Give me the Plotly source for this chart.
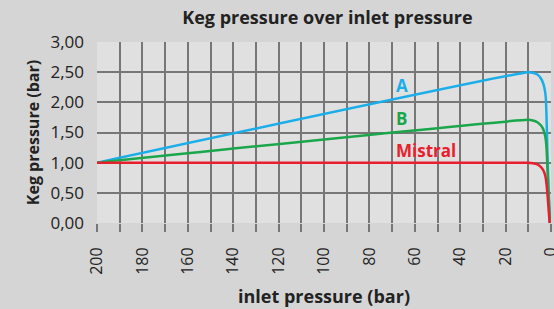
import plotly.graph_objects as go

# Data
a_x = [200, 10, 8, 6, 4.5, 3.5, 2.8, 2.3, 2.0, 1.6, 1.1, 0.4]
a_y = [1.0, 2.5, 2.49, 2.46, 2.40, 2.32, 2.22, 2.08, 1.8, 1.2, 0.6, 0.0]
b_x = [200, 10, 8, 6, 4.5, 3.5, 2.8, 2.3, 1.9, 1.5, 1.0, 0.4]
b_y = [1.0, 1.71, 1.70, 1.67, 1.62, 1.56, 1.48, 1.38, 1.2, 0.85, 0.4, 0.0]
m_x = [200, 10, 8, 6, 4.5, 3.5, 2.8, 2.3, 1.9, 1.5, 1.0, 0.6]
m_y = [1.0, 1.0, 0.99, 0.97, 0.93, 0.88, 0.82, 0.74, 0.62, 0.45, 0.2, 0.0]

x_ticks = [200, 180, 160, 140, 120, 100, 80, 60, 40, 20, 0]
y_ticks = [0, 0.5, 1.0, 1.5, 2.0, 2.5, 3.0]
y_tick_labels = ["0,00", "0,50", "1,00", "1,50", "2,00", "2,50", "3,00"]

series_names = ["A", "B", "Mistral"]
colors = ["#19aeea", "#1aa64a", "#e8202e"]
label_pos = [(69, 2.28), (69, 1.74), (69, 1.2)]

FONT = "Open Sans"
TXT = "#222222"
GRID = "#777777"

fig = go.Figure()
for (xs, ys), c, n in zip([(a_x, a_y), (b_x, b_y), (m_x, m_y)], colors, series_names):
    fig.add_trace(go.Scatter(x=xs, y=ys, mode="lines", name=n,
                             line=dict(color=c, width=2.5, shape="spline", smoothing=0.5),
                             showlegend=False, cliponaxis=False))

for n, c, (lx, ly) in zip(series_names, colors, label_pos):
    fig.add_annotation(x=lx, y=ly, text=f"<b>{n}</b>", showarrow=False,
                       xanchor="left", yanchor="middle",
                       font=dict(family=FONT, size=17, color=c))

fig.update_layout(
    width=554, height=309,
    margin=dict(l=97, r=3, t=42, b=86, autoexpand=False),
    paper_bgcolor="#d5d5d5",
    plot_bgcolor="#e0e0e0",
    title=dict(text="<b>Keg pressure over inlet pressure</b>", x=0.591, xanchor="center",
               y=0.942, yanchor="middle",
               font=dict(family=FONT, size=18, color=TXT)),
    font=dict(family=FONT, color=TXT),
)
fig.update_xaxes(range=[200, 0], tickvals=x_ticks, tickangle=-90,
                 tickfont=dict(family=FONT, size=16, color=TXT),
                 ticklabeloverflow="allow", ticklabelstandoff=9,
                 showgrid=True, gridcolor=GRID, gridwidth=2,
                 ticks="outside", ticklen=8, tickcolor=GRID, tickwidth=2,
                 zeroline=False, showline=False,
                 minor=dict(dtick=10, tick0=0, showgrid=True, gridcolor=GRID,
                            gridwidth=2, ticks="outside", ticklen=8,
                            tickcolor=GRID, tickwidth=2),
                 title=dict(text="<b>inlet pressure (bar)</b>", standoff=16,
                            font=dict(family=FONT, size=18, color=TXT)))
fig.update_yaxes(range=[0, 3.0], tickvals=y_ticks, ticktext=y_tick_labels,
                 tickfont=dict(family=FONT, size=17, color=TXT),
                 showgrid=True, gridcolor=GRID, gridwidth=2,
                 zeroline=False, showline=False, ticks="", ticklabelstandoff=12,
                 title=dict(text="<b>Keg pressure (bar)</b>", standoff=6,
                            font=dict(family=FONT, size=16, color=TXT)))

fig.write_html("out.html", config={"displayModeBar": False},
               post_script="document.body.style.margin='0';")
